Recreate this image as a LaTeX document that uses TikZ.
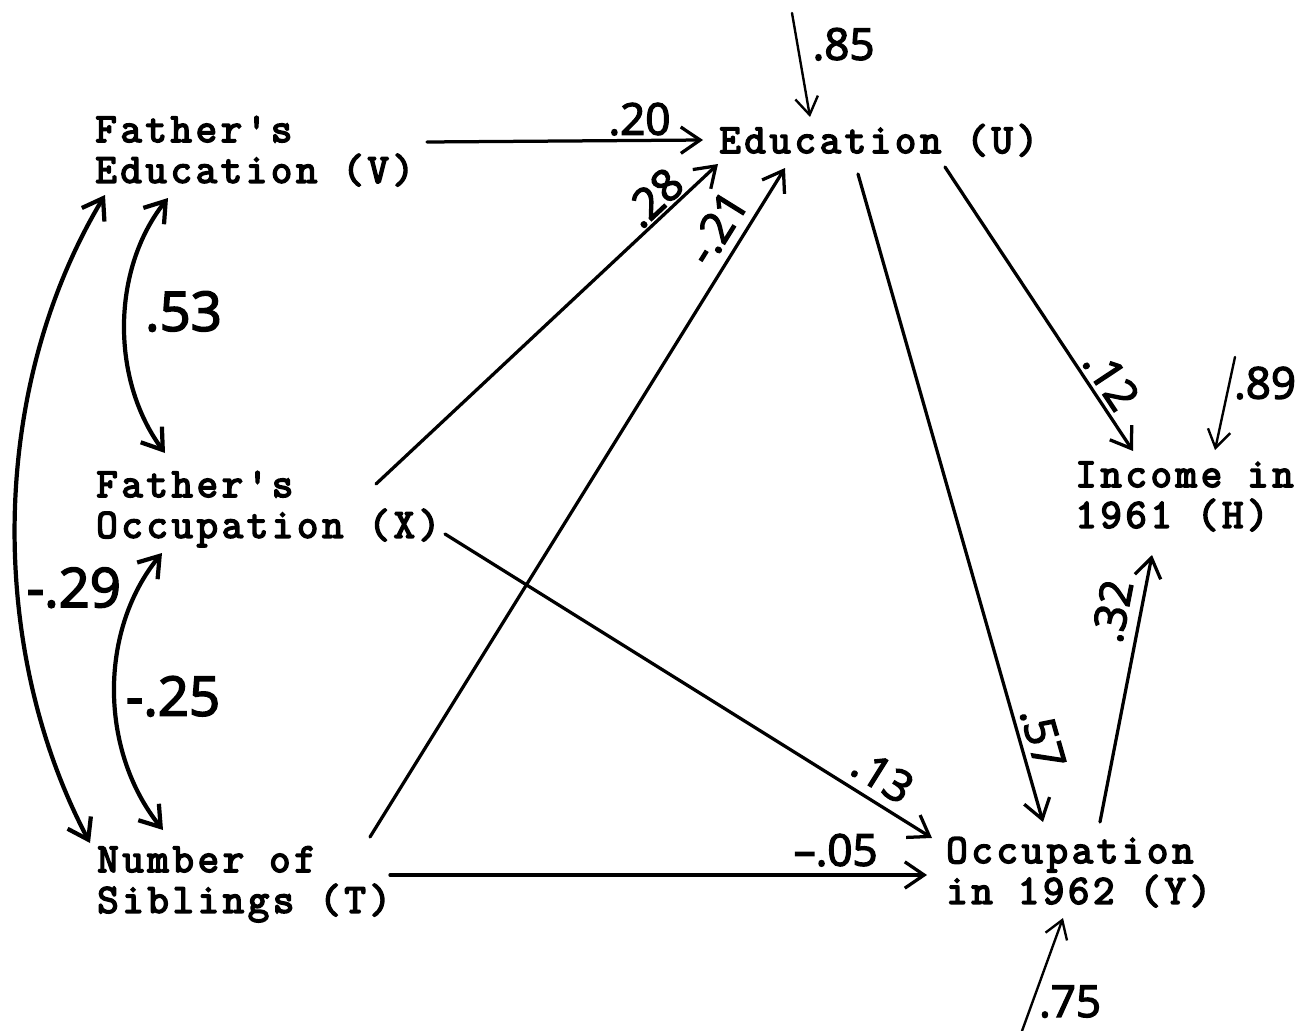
\documentclass[tikz,border=0pt]{standalone}
\usepackage{fontspec}
\newfontfamily\typew{Latin Modern Mono}[FakeBold=4,LetterSpace=9]
\newfontfamily\labfont{Open Sans}[FakeBold=3]
\usetikzlibrary{arrows.meta,calc}
\begin{document}
\begin{tikzpicture}[x=0.02cm,y=-0.02cm,
  var/.style={anchor=base west, inner sep=0pt, font=\fontsize{23.6pt}{22.7pt}\selectfont\typew},
  link/.style={line width=1.85pt, line cap=round, -{Straight Barb[length=11pt,width=15pt]}},
  errlink/.style={line width=1.35pt, line cap=round, -{Straight Barb[length=10pt,width=13pt]}},
  corr/.style={line width=2.4pt, line cap=round, {Straight Barb[length=11pt,width=15pt]}-{Straight Barb[length=11pt,width=15pt]}},
  lbl/.style={font=\fontsize{25pt}{25pt}\selectfont\labfont, inner sep=1pt},
  biglbl/.style={font=\fontsize{31pt}{31pt}\selectfont\labfont, inner sep=1pt}
]
\useasboundingbox[fill=white] (0,0) rectangle (1303,1031);

% variables
\node[var] (V) at (95,142) {\begin{tabular}[t]{@{}l@{}}Father's\\Education (V)\end{tabular}};
\node[var] (X) at (96,497) {\begin{tabular}[t]{@{}l@{}}Father's\\Occupation (X)\end{tabular}};
\node[var] (T) at (97,872) {\begin{tabular}[t]{@{}l@{}}Number of\\Siblings (T)\end{tabular}};
\node[var] (U) at (719,153) {Education (U)};
\node[var] (H) at (1075,487) {\begin{tabular}[t]{@{}l@{}}Income in\\1961 (H)\end{tabular}};
\node[var] (Y) at (946,863) {\begin{tabular}[t]{@{}l@{}}Occupation\\in 1962 (Y)\end{tabular}};

% residual sources
\coordinate (eU) at (792,13);
\coordinate (eH) at (1235,357);
\coordinate (eY) at (1022,1031);

% paths into U
\draw[link] ($(V.base west)+(332,0)$) -- node[lbl, pos=.77, above=1pt] {.20} ($(U.base west)+(-16,-13)$);
\draw[link] ($(X.base west)+(280,-13)$) -- node[lbl, pos=.85, sloped, above=0pt] {.28} ($(U.base west)+(-1,11)$);
\draw[link] ($(T.base west)+(273,-35)$) -- node[lbl, pos=.89, sloped, above=4pt] {-.21} ($(U.base west)+(66,15)$);
\draw[errlink] (eU) -- node[lbl, pos=.3, right=7pt] {.85} ($(U.base west)+(91,-36)$);

% paths into Y
\draw[link] ($(U.base west)+(139,21)$) -- node[lbl, pos=.88, sloped, above=2pt] {.57} ($(Y.base west)+(97,-41)$);
\draw[link] ($(X.base west)+(349,37)$) -- node[lbl, pos=.87, sloped, above=4pt] {.13} ($(Y.base west)+(-14,-25)$);
\draw[link] ($(T.base west)+(293,3)$) -- node[lbl, pos=.83, above=3pt] {–.05} ($(Y.base west)+(-19,12)$);
\draw[errlink] (eY) -- node[lbl, pos=.26, right=2pt] {.75} ($(Y.base west)+(117,55)$);

% paths into H
\draw[link] ($(U.base west)+(226,14)$) -- node[lbl, pos=.79, sloped, above=1pt] {.12} ($(H.base west)+(58,-36)$);
\draw[link] ($(Y.base west)+(154,-41)$) -- node[lbl, pos=.77, sloped, above=5pt] {.32} ($(H.base west)+(77,68)$);
\draw[errlink] (eH) -- node[lbl, pos=.28, right=1pt] {.89} ($(H.base west)+(140,-37)$);

% correlations
\draw[corr] ($(V.base west)+(73,56)$) .. controls +(-57,72) and +(-54,-73) .. node[biglbl, pos=.45, right=9pt] {.53} ($(X.base west)+(69,-44)$);
\draw[corr] ($(X.base west)+(66,56)$) .. controls +(-63,77) and +(-64,-80) .. node[biglbl, pos=.52, right=4pt] {-.25} ($(T.base west)+(66,-42)$);
\draw[corr] ($(V.base west)+(10,53)$) .. controls +(-117,195) and +(-102,-193) .. node[biglbl, pos=.6, right=3pt] {-.29} ($(T.base west)+(-7,-29)$);
\end{tikzpicture}
\end{document}
